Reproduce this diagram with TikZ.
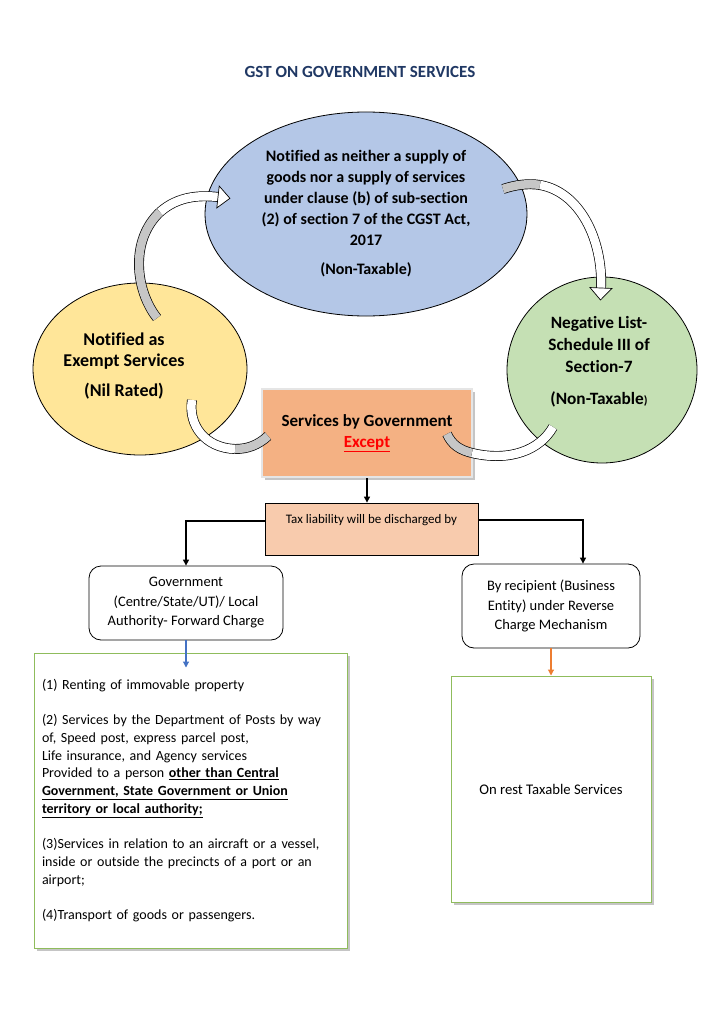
\documentclass[tikz,border=0pt]{standalone}
\usepackage{fontspec}
\setmainfont{Carlito}[Ligatures=NoCommon]
\usetikzlibrary{shapes.geometric,shadows,decorations.markings,arrows.meta}
\definecolor{titleblue}{HTML}{203864}
\definecolor{topblue}{HTML}{B4C7E7}
\definecolor{exemptyellow}{HTML}{FFE699}
\definecolor{neggreen}{HTML}{C5E0B4}
\definecolor{servorange}{HTML}{F4B183}
\definecolor{taxpeach}{HTML}{F8CBAD}
\definecolor{boxgreen}{HTML}{8FBC5C}
\definecolor{arrowblue}{HTML}{4472C4}
\definecolor{arroworange}{HTML}{ED7D31}
\tikzset{
  oval/.style={ellipse, draw=black, line width=0.8pt, inner sep=0pt, align=center,
    font=\bfseries\fontsize{16}{21}\selectfont},
  ovaltext/.style={align=center, inner sep=0pt},
  roundbox/.style={draw=black, rounded corners=12pt, line width=0.8pt, inner sep=0pt,
    align=center, font=\fontsize{14.5}{19.5}\selectfont},
  greenbox/.style={draw=boxgreen, line width=1pt, fill=white, inner sep=0pt,
    drop shadow={shadow xshift=3pt, shadow yshift=-3pt, fill=black!45}},
  conn/.style={-{Triangle[length=6pt,width=6pt]}, line width=1.1pt},
  band/.style={double=white, double distance=8.5pt, line width=0.7pt},
  bandtail/.style={band, double=gray!45},
  bandhead/.style={decorate, decoration={markings, mark=at position 1 with
    {\draw[fill=white, line width=0.7pt] (0pt,-11pt) -- (12pt,0pt) -- (0pt,11pt) -- cycle;}}}
}
\begin{document}
\begin{tikzpicture}[x=1pt,y=-1pt]
  \useasboundingbox[fill=white] (0,0) rectangle (720,1019);
  \node[font=\bfseries\fontsize{17}{20}\selectfont, text=titleblue] (title) at (360,72)
    {GST ON GOVERNMENT SERVICES};

  \node[oval, fill=topblue, minimum width=322pt, minimum height=204pt] (supply) at (366,214)
    {Notified as neither a supply of\\ goods nor a supply of services\\ under clause (b) of sub-section\\
     (2) of section 7 of the CGST Act,\\ 2017\\[8pt] (Non-Taxable)};
  \node[oval, fill=exemptyellow, minimum width=214pt, minimum height=172pt] (exempt) at (140,369) {};
  \node[ovaltext, font=\bfseries\fontsize{18}{21}\selectfont] (exempttext) at (124,366)
    {Notified as\\ Exempt Services\\[9pt] (Nil Rated)};
  \node[oval, fill=neggreen, minimum width=190pt, minimum height=186pt] (neglist) at (602,370) {};
  \node[ovaltext, font=\bfseries\fontsize{17.3}{22}\selectfont] (negtext) at (599,362)
    {Negative List-\\ Schedule III of\\ Section-7\\[10pt] (Non-Taxable{\fontsize{12}{12}\selectfont)}};

  \node[fill=servorange, draw=black!10, line width=2pt, minimum width=210pt, minimum height=88pt,
    inner sep=0pt, align=center, font=\bfseries\fontsize{17}{21}\selectfont,
    drop shadow={shadow xshift=3pt, shadow yshift=-3pt, fill=black!45}] (serv) at (367,433)
    {Services by Government\\ \textcolor{red}{\underline{Except}}};

  \node[fill=taxpeach, draw=black, line width=0.8pt, minimum width=213pt, minimum height=52pt,
    inner sep=0pt, align=center, font=\fontsize{13}{16}\selectfont] (tax) at (371.5,529)
    {Tax liability will be discharged by\\ \strut};

  \node[roundbox, minimum width=194pt, minimum height=74pt] (gov) at (186,603)
    {Government\\ (Centre/State/UT)/ Local\\ Authority- Forward Charge};
  \node[roundbox, minimum width=178pt, minimum height=84pt] (recip) at (551,606)
    {By recipient (Business\\ Entity) under Reverse\\ Charge Mechanism};

  \node[greenbox, minimum width=313pt, minimum height=295pt, text width=297pt, inner xsep=8pt,
    align=left, font=\fontsize{14}{17.7}\selectfont] (list) at (190.5,800.5)
    {(1) Renting of immovable property\\[17.7pt]
     (2) Services by the Department of Posts by way\\
     of, Speed post, express parcel post,\\
     Life insurance, and Agency services\\
     Provided to a person \underline{\textbf{other than Central}}\\
     \underline{\textbf{Government, State Government or Union}}\\
     \underline{\textbf{territory or local authority;}}\\[17.7pt]
     (3)Services in relation to an aircraft or a vessel,\\
     inside or outside the precincts of a port or an\\
     airport;\\[17.7pt]
     (4)Transport of goods or passengers.};
  \node[greenbox, minimum width=200pt, minimum height=226pt, font=\fontsize{14.7}{18}\selectfont]
    (rest) at (551,789) {On rest Taxable Services};

  \draw[conn] (serv.south) -- (serv.south |- tax.north);
  \draw[conn] ([yshift=8pt]tax.west) -| (gov.north);
  \draw[conn] ([yshift=9pt]tax.east) -| ([xshift=32pt]recip.north);
  \draw[conn, draw=arrowblue, fill=arrowblue] (gov.south) -- ([yshift=-15pt]gov.south |- list.north);
  \draw[conn, draw=arroworange, fill=arroworange] (recip.south) -- (recip.south |- rest.north);

  \draw[bandtail] (157,318) .. controls (135,290) and (130,240) .. (160,212);
  \draw[band] (160,212) .. controls (178,196) and (200,195) .. (218,197);
  \path[bandhead] (160,212) .. controls (178,196) and (200,195) .. (218,197);

  \draw[bandtail] (503,189) .. controls (515,185) and (528,183) .. (540,185);
  \draw[band] (540,185) .. controls (580,192) and (603,240) .. (601,288);
  \path[bandhead] (540,185) .. controls (580,192) and (603,240) .. (601,288);

  \draw[bandtail] (268,436) .. controls (258,445) and (248,449) .. (235,449);
  \draw[band] (235,449) .. controls (205,448) and (188,425) .. (192,400);
  \path[bandhead] (235,449) .. controls (205,448) and (188,425) .. (192,400);

  \draw[bandtail] (447,434) .. controls (452,445) and (460,450) .. (472,453);
  \draw[band] (472,453) .. controls (510,462) and (540,450) .. (553,427);
  \path[bandhead] (472,453) .. controls (510,462) and (540,450) .. (553,427);
\end{tikzpicture}
\end{document}
